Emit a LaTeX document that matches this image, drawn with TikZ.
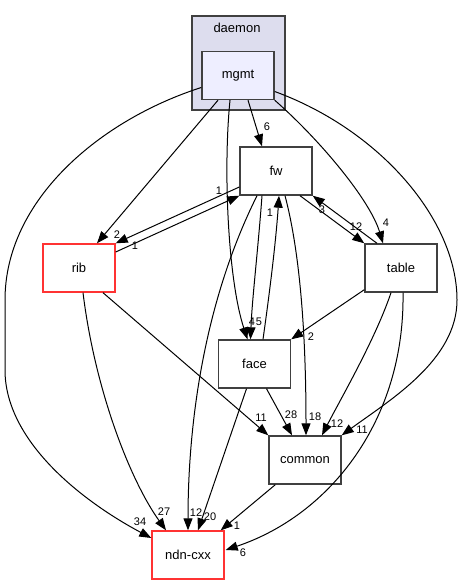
\documentclass[tikz,border=0pt]{standalone}
\usepackage{fontspec}
\setmainfont{Liberation Sans}
\usetikzlibrary{arrows.meta,calc}
\definecolor{clfill}{HTML}{DDDDEE}
\definecolor{ndfill}{HTML}{EEEEFF}
\definecolor{bordergrey}{HTML}{404040}
\definecolor{redb}{HTML}{FF3333}
\begin{document}
\begin{tikzpicture}[x=1pt,y=-1pt,
  box/.style={draw=bordergrey,line width=1.4pt,fill=white,minimum width=72pt,minimum height=48pt,inner sep=0pt,font=\fontsize{13}{15}\selectfont},
  redbox/.style={box,draw=redb},
  dep/.style={line width=1pt,-{Triangle[length=12pt,width=9pt]}},
  lbl/.style={inner sep=0pt,font=\fontsize{11}{13}\selectfont}]
\useasboundingbox (0,0) rectangle (461,585);
% cluster
\node[draw=bordergrey,line width=1.4pt,fill=clfill,minimum width=93pt,minimum height=94pt,inner sep=0pt] (daemon) at (238.5,63) {};
\node[font=\fontsize{13}{15}\selectfont,inner sep=0pt] (daemonlbl) at (237,28) {daemon};
% nodes
\node[box,fill=ndfill] (mgmt) at (238,75.5) {mgmt};
\node[box] (fw) at (276,171) {fw};
\node[box] (table) at (401,268) {table};
\node[redbox] (rib) at (79,268) {rib};
\node[box] (face) at (254.5,364) {face};
\node[box] (common) at (305,460) {common};
\node[redbox] (ndn) at (188,555) {ndn-cxx};
% edges
\draw[dep] ($(mgmt.south)+(10,0)$) -- ($(fw.north)+(-14,0)$);
\draw[dep] ($(mgmt.south)+(-20,0)$) -- ($(rib.north)+(18,0)$);
\draw[dep] ($(mgmt.south)+(-8,0)$) .. controls (223,170) and (228,280) .. ($(face.north)+(-7,0)$);
\draw[dep] ($(fw.south)+(-14,0)$) .. controls (258,250) and (252,300) .. ($(face.north)+(-4,0)$);
\draw[dep] ($(face.north)+(8.5,0)$) .. controls (270,290) and (276,240) .. ($(fw.south)+(3,0)$);
\draw[dep] (mgmt.south east) .. controls (320,140) and (370,200) .. ($(table.north)+(-18,0)$);
\draw[dep] ($(mgmt.east)+(0,16)$) .. controls (380,130) and (457,220) .. (457,300) .. controls (457,360) and (390,400) .. (common.north east);
\draw[dep] ($(mgmt.west)+(0,12)$) .. controls (100,120) and (5,200) .. (5,300) -- (5,370) .. controls (5,440) and (80,500) .. ($(ndn.west)+(0,-17)$);
\draw[dep] ($(fw.west)+(0,16)$) -- (rib.north east);
\draw[dep] ($(rib.east)+(0,-16)$) -- (fw.south west);
\draw[dep] ($(fw.south)+(24,0)$) -- (table.north west);
\draw[dep] ($(table.north)+(-24,0)$) -- (fw.south east);
\draw[dep] ($(fw.south)+(9,0)$) .. controls (302,260) and (306,350) .. ($(common.north)+(1,0)$);
\draw[dep] ($(fw.south)+(-19,0)$) .. controls (205,300) and (188,420) .. (ndn.north);
\draw[dep] ($(face.south)+(-8,0)$) -- ($(ndn.north)+(10,0)$);
\draw[dep] ($(rib.south)+(24,0)$) -- (common.north west);
\draw[dep] ($(rib.south)+(4,0)$) .. controls (95,390) and (130,480) .. ($(ndn.north)+(-22,0)$);
\draw[dep] ($(table.south west)+(0,-3)$) -- (face.north east);
\draw[dep] ($(table.south)+(-10,0)$) .. controls (375,340) and (340,400) .. ($(common.north)+(17,0)$);
\draw[dep] ($(table.south)+(2,0)$) .. controls (405,420) and (330,515) .. ($(ndn.east)+(1,-5)$);
\draw[dep] ($(face.south)+(12,0)$) -- ($(common.north)+(-13,0)$);
\draw[dep] ($(common.south west)+(7,0)$) -- ($(ndn.north east)+(-4,0)$);
% labels
\node[lbl] at (267,127) {6};
\node[lbl] at (117,235) {2};
\node[lbl] at (252,322) {4};
\node[lbl] at (259,322) {5};
\node[lbl] at (270,213) {1};
\node[lbl] at (386,223) {4};
\node[lbl] at (362,430) {11};
\node[lbl] at (140,522) {34};
\node[lbl] at (135,246) {1};
\node[lbl] at (219,191) {1};
\node[lbl] at (356,227) {12};
\node[lbl] at (322,210) {3};
\node[lbl] at (315,417) {18};
\node[lbl] at (196,513) {12};
\node[lbl] at (210,517) {20};
\node[lbl] at (261,418) {11};
\node[lbl] at (164,512) {27};
\node[lbl] at (311,337) {2};
\node[lbl] at (337,424) {12};
\node[lbl] at (243,553) {6};
\node[lbl] at (291,415) {28};
\node[lbl] at (237,526) {1};
\end{tikzpicture}
\end{document}
